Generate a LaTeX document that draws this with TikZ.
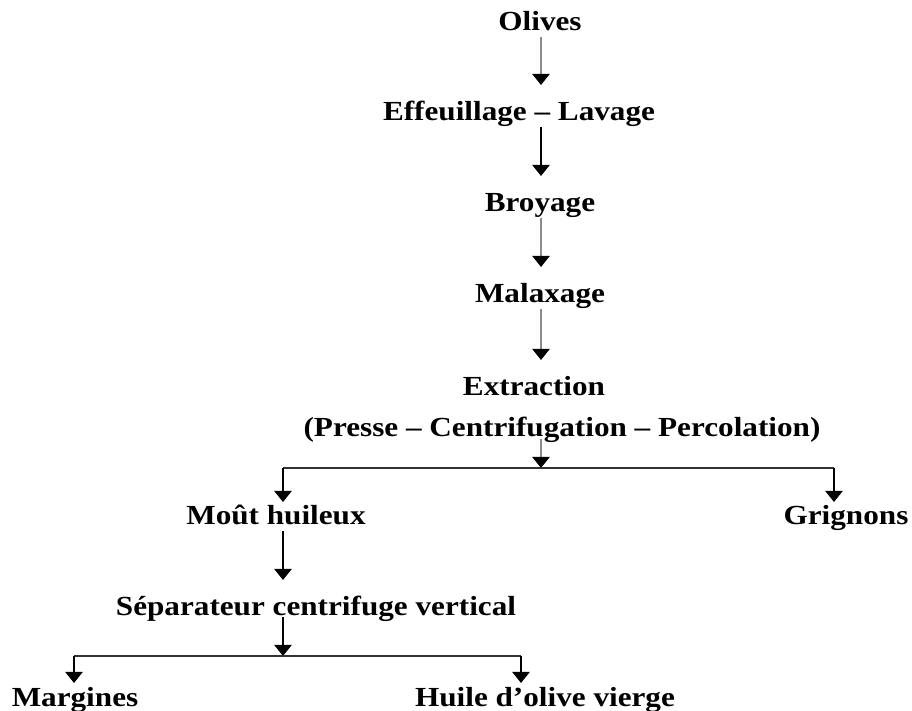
\documentclass[tikz,border=0pt]{standalone}
\usepackage{fontspec}
\setmainfont{Liberation Serif}[FakeStretch=1.13]
\usetikzlibrary{arrows.meta}

\begin{document}
\begin{tikzpicture}[
  x=0.5pt, y=-0.5pt,
  st/.style={font=\bfseries\fontsize{13.8}{16}\selectfont, inner sep=0pt,
    outer sep=0pt, anchor=base, text height=9pt, text depth=0pt},
  arr/.style={line width=1.1pt, -{Triangle[width=8.5pt,length=5.5pt,color=black]},
    shorten <=3pt, shorten >=9pt},
  pale/.style={draw=black!45},
  tip/.style={line width=1.1pt, -{Triangle[width=8.5pt,length=5.5pt,color=black]}},
  bar/.style={line width=0.9pt, draw=black!80}
]
\useasboundingbox (0,0) rectangle (912,711);

% steps
\node[st] (olives) at (540,31) {Olives};
\node[st] (effeuil) at (519,121) {Effeuillage -- Lavage};
\node[st] (broyage) at (540,212) {Broyage};
\node[st] (malax) at (540,303) {Malaxage};
\node[st] (extr) at (534,396) {Extraction};
\node[st] (presse) at (562,437) {(Presse -- Centrifugation -- Percolation)};
\node[st] (mout) at (276,525) {Moût huileux};
\node[st] (grign) at (846,525) {Grignons};
\node[st] (separ) at (316,616) {Séparateur centrifuge vertical};
\node[st] (margin) at (75,706) {Margines};
\node[st] (huile) at (545,706) {Huile d’olive vierge};

\coordinate (col) at (541,0);
\coordinate (split1) at (541,468);
\coordinate (lb1) at (283,468);
\coordinate (rb1) at (834,468);
\coordinate (split2) at (283,656);
\coordinate (lb2) at (74,656);
\coordinate (rb2) at (521,656);

% main chain
\draw[arr,pale] (olives.south -| col) -- (effeuil.north -| col);
\draw[arr] (effeuil.south -| col) -- (broyage.north -| col);
\draw[arr,pale] (broyage.south -| col) -- (malax.north -| col);
\draw[arr,pale] (malax.south -| col) -- (extr.north -| col);
\draw[tip,pale,shorten <=1pt] (presse.south -| split1) -- (split1);

% first split
\draw[bar] (lb1) -- (rb1);
\draw[tip,shorten >=2.5pt] (lb1) -- (mout.north -| lb1);
\draw[tip,shorten >=2.5pt] (rb1) -- (grign.north -| rb1);

% separation
\draw[arr] (mout.south -| lb1) -- (separ.north -| lb1);
\draw[tip,shorten <=0.5pt] (separ.south -| split2) -- (split2);
\draw[bar] (lb2) -- (rb2);
\draw[tip,shorten >=2.5pt] (lb2) -- (margin.north -| lb2);
\draw[tip,shorten >=2.5pt] (rb2) -- (huile.north -| rb2);
\end{tikzpicture}
\end{document}
